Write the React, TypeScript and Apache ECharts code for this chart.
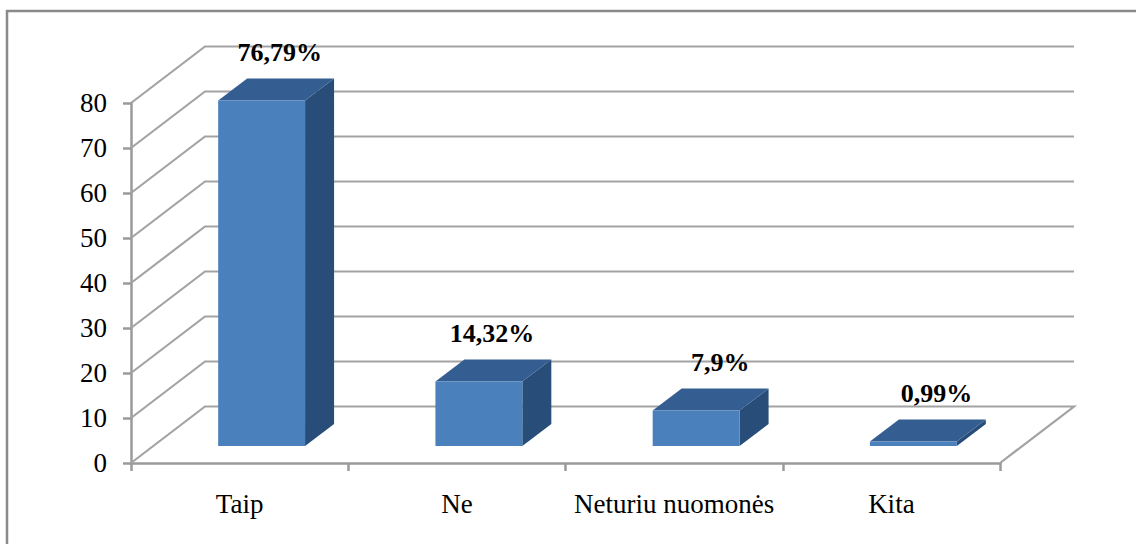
import React, { useEffect, useRef } from "react";
import * as echarts from "echarts";

const categories = ["Taip", "Ne", "Neturiu nuomonės", "Kita"];
const values = [76.79, 14.32, 7.9, 0.99];
const valueLabels = ["76,79%", "14,32%", "7,9%", "0,99%"];
const gridTicks = [0, 10, 20, 30, 40, 50, 60, 70, 80];
const labelShiftX = [18, 13, 24, 23];

const WALL_DX = 74;
const WALL_DY = -56.5;
const BAR_DX = 22;
const BAR_DY = -17;
const DEPTH_DX = 29;
const DEPTH_DY = -22;
const BAR_WIDTH_RATIO = 0.4;
const SERIF = '"Liberation Serif", "Times New Roman", serif';
const AXIS_GREY = "#9a9a9a";
const GRID_GREY = "#a3a3a3";

export default function App() {
  const ref = useRef<HTMLDivElement>(null);

  useEffect(() => {
    document.body.style.margin = "0";
    document.body.style.background = "#ffffff";
    const chart = echarts.init(ref.current!, undefined, { renderer: "svg" });

    const renderWall = (_p: any, api: any) => {
      const v = api.value(1);
      const band = api.size([1, 0])[0];
      const left = api.coord([0, v]);
      const right = api.coord([categories.length - 1, v]);
      const x0 = left[0] - band / 2;
      const x1 = right[0] + band / 2;
      const y = left[1];
      const points =
        v === 0
          ? [
              [x0, y],
              [x0 + WALL_DX, y + WALL_DY],
              [x1 + WALL_DX, y + WALL_DY],
              [x1, y],
            ]
          : [
              [x0, y],
              [x0 + WALL_DX, y + WALL_DY],
              [x1 + WALL_DX, y + WALL_DY],
            ];
      return {
        type: "polyline",
        shape: { points },
        style: { stroke: GRID_GREY, lineWidth: 2.2, fill: "none" },
      };
    };

    const renderBar = (_p: any, api: any) => {
      const i = api.value(0);
      const v = api.value(1);
      const band = api.size([1, 0])[0];
      const w = band * BAR_WIDTH_RATIO;
      const base = api.coord([i, 0]);
      const top = api.coord([i, v]);
      const xl = base[0] + BAR_DX - w / 2;
      const xr = xl + w;
      const yb = base[1] + BAR_DY;
      const yt = top[1] + BAR_DY;
      return {
        type: "group",
        children: [
          {
            type: "polygon",
            shape: {
              points: [
                [xr, yt],
                [xr + DEPTH_DX, yt + DEPTH_DY],
                [xr + DEPTH_DX, yb + DEPTH_DY],
                [xr, yb],
              ],
            },
            style: { fill: "#274d78" },
          },
          {
            type: "polygon",
            shape: {
              points: [
                [xl, yt],
                [xl + DEPTH_DX, yt + DEPTH_DY],
                [xr + DEPTH_DX, yt + DEPTH_DY],
                [xr, yt],
              ],
            },
            style: { fill: "#345e91" },
          },
          {
            type: "rect",
            shape: { x: xl, y: yt, width: w, height: yb - yt },
            style: { fill: "#4a81bc" },
          },
          {
            type: "text",
            x: (xl + xr) / 2 + labelShiftX[i],
            y: yt + DEPTH_DY - 26,
            style: {
              text: valueLabels[i],
              font: `bold 26px ${SERIF}`,
              fill: "#000000",
              align: "center",
              verticalAlign: "middle",
            },
          },
        ],
      };
    };

    chart.setOption({
      animation: false,
      backgroundColor: "#ffffff",
      grid: { left: 131, right: 136, top: 103, bottom: 81, containLabel: false },
      xAxis: {
        type: "category",
        data: categories,
        boundaryGap: true,
        axisLine: { show: true, lineStyle: { color: AXIS_GREY, width: 2.5 } },
        axisTick: {
          show: true,
          alignWithLabel: false,
          length: 8,
          lineStyle: { color: AXIS_GREY, width: 2.5 },
        },
        axisLabel: {
          interval: 0,
          margin: 27,
          color: "#000000",
          fontFamily: SERIF,
          fontSize: 27,
        },
      },
      yAxis: {
        type: "value",
        min: 0,
        max: 80,
        interval: 10,
        splitLine: { show: false },
        axisLine: { show: true, lineStyle: { color: AXIS_GREY, width: 2.5 } },
        axisTick: { show: true, length: 8, lineStyle: { color: AXIS_GREY, width: 2.5 } },
        axisLabel: {
          margin: 24,
          color: "#000000",
          fontFamily: SERIF,
          fontSize: 27,
        },
      },
      graphic: [
        {
          type: "polyline",
          shape: {
            points: [
              [7, 544],
              [7, 11],
              [1136, 11],
            ],
          },
          style: { stroke: "#8a8a8a", lineWidth: 2.5, fill: "none" },
        },
      ],
      series: [
        {
          type: "custom",
          z: 1,
          coordinateSystem: "cartesian2d",
          encode: { x: 0, y: 1 },
          data: gridTicks.map((t) => [0, t]),
          renderItem: renderWall,
          silent: true,
        },
        {
          type: "custom",
          z: 2,
          coordinateSystem: "cartesian2d",
          encode: { x: 0, y: 1 },
          data: values.map((v, i) => [i, v]),
          renderItem: renderBar,
          silent: true,
        },
      ],
    });

    return () => chart.dispose();
  }, []);

  return <div ref={ref} style={{ width: 1136, height: 544 }} />;
}
